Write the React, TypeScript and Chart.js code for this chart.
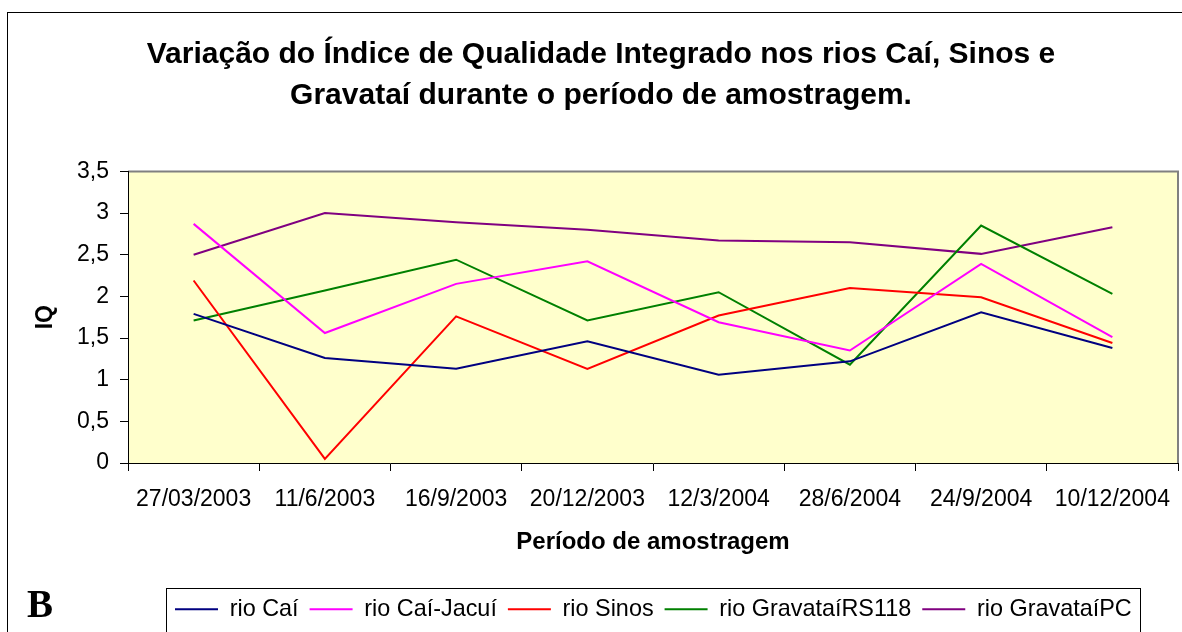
import React, { useEffect, useRef } from "react";
import { Chart, registerables } from "chart.js";

Chart.register(...registerables);

const categories = [
  "27/03/2003",
  "11/6/2003",
  "16/9/2003",
  "20/12/2003",
  "12/3/2004",
  "28/6/2004",
  "24/9/2004",
  "10/12/2004",
];

const rioCai = [1.79, 1.26, 1.13, 1.46, 1.06, 1.22, 1.81, 1.38];
const rioCaiJacui = [2.87, 1.56, 2.15, 2.42, 1.69, 1.35, 2.39, 1.51];
const rioSinos = [2.19, 0.05, 1.76, 1.13, 1.77, 2.1, 1.99, 1.44];
const rioGravataiRS118 = [1.71, 2.07, 2.44, 1.71, 2.05, 1.18, 2.85, 2.03];
const rioGravataiPC = [2.5, 3.0, 2.89, 2.8, 2.67, 2.65, 2.51, 2.83];

const seriesNames = ["rio Caí", "rio Caí-Jacuí", "rio Sinos", "rio GravataíRS118", "rio GravataíPC"];
const seriesColors = ["#000080", "#FF00FF", "#FF0000", "#008000", "#800080"];

const titleLines = [
  "Variação do Índice de Qualidade Integrado nos rios Caí, Sinos e",
  "Gravataí durante o período de amostragem.",
];
const xTitle = "Período de amostragem";
const yTitle = "IQ";
const panelLabel = "B";

const W = 1182;
const H = 632;
const PLOT_BOTTOM = 463;
const LEGEND_PAD_BOTTOM = 1;

export default function App() {
  const canvasRef = useRef<HTMLCanvasElement | null>(null);

  useEffect(() => {
    const canvas = canvasRef.current;
    if (!canvas) return;
    const FONT = "'Liberation Sans', Arial, sans-serif";
    Chart.defaults.font.family = FONT;
    Chart.defaults.color = "#000";

    const allSeries = [rioCai, rioCaiJacui, rioSinos, rioGravataiRS118, rioGravataiPC];

    const decorPlugin = {
      id: "decor",
      beforeDraw(chart: any) {
        const ctx = chart.ctx;
        const a = chart.chartArea;
        ctx.save();
        ctx.fillStyle = "#fff";
        ctx.fillRect(0, 0, W, H);
        // outer frame
        ctx.strokeStyle = "#000";
        ctx.lineWidth = 1;
        ctx.strokeRect(7.5, 12.5, 1300, 800);
        // plot background
        ctx.fillStyle = "#FFFFCC";
        ctx.fillRect(a.left, a.top, a.right - a.left, a.bottom - a.top);
        // gray border top/right
        ctx.strokeStyle = "#808080";
        ctx.lineWidth = 2;
        ctx.beginPath();
        ctx.moveTo(a.left, a.top);
        ctx.lineTo(a.right, a.top);
        ctx.lineTo(a.right, a.bottom);
        ctx.stroke();
        ctx.restore();
      },
      afterUpdate(chart: any) {
        const lg = chart.legend;
        if (lg) {
          lg.left = 164;
          lg.right = 1400;
        }
        const tb = chart.titleBlock;
        if (tb) {
          tb.left = 24;
          tb.right = 1178;
        }
      },
      afterDraw(chart: any) {
        const ctx = chart.ctx;
        const lg = chart.legend;
        ctx.save();
        if (lg && lg.lineWidths) {
          const x0 = lg.left + 2;
          const x1 = lg.left + lg.lineWidths[0] + 8;
          ctx.strokeStyle = "#000";
          ctx.lineWidth = 1;
          ctx.strokeRect(Math.round(x0) + 0.5, 588.5, Math.round(x1 - x0), 100);
        }
        ctx.fillStyle = "#000";
        ctx.font = "bold 39px 'Liberation Serif', 'Times New Roman', serif";
        ctx.textBaseline = "alphabetic";
        ctx.textAlign = "left";
        ctx.fillText(panelLabel, 27, 617);
        ctx.restore();
      },
    };

    const chart = new Chart(canvas, {
      type: "line",
      data: {
        labels: categories,
        datasets: allSeries.map((d, i) => ({
          label: seriesNames[i],
          data: d,
          borderColor: seriesColors[i],
          backgroundColor: seriesColors[i],
          borderWidth: 2,
          pointRadius: 0,
          tension: 0,
          fill: false,
        })),
      },
      options: {
        animation: false,
        responsive: false,
        events: [],
        layout: { padding: { left: 0, right: 4, top: 0, bottom: LEGEND_PAD_BOTTOM } },
        plugins: {
          tooltip: { enabled: false },
          title: {
            display: true,
            text: titleLines,
            color: "#000",
            font: { size: 30, weight: "bold", family: FONT, lineHeight: 1.373 },
            padding: { top: 34, bottom: 55 },
          },
          legend: {
            display: true,
            position: "bottom",
            align: "start",
            labels: {
              color: "#000",
              font: { size: 23.4, family: FONT },
              boxWidth: 43,
              boxHeight: 0,
              padding: 11,
            },
          },
        },
        scales: {
          x: {
            type: "category",
            offset: true,
            grid: {
              display: true,
              offset: true,
              drawOnChartArea: false,
              drawTicks: true,
              tickLength: 8,
              color: "#000",
            },
            border: { display: true, color: "#000", width: 1 },
            ticks: {
              autoSkip: false,
              maxRotation: 0,
              minRotation: 0,
              padding: 15,
              color: "#000",
              font: { size: 23, family: FONT },
            },
            title: {
              display: true,
              text: xTitle,
              color: "#000",
              font: { size: 24, weight: "bold", family: FONT },
              padding: { top: 0, bottom: 30 },
            },
            afterFit(s: any) {
              const lh = s.chart.legend ? s.chart.legend.height : 44;
              s.height = H - LEGEND_PAD_BOTTOM - lh - PLOT_BOTTOM;
              s.paddingLeft = 0;
              s.paddingRight = 0;
            },
          },
          y: {
            min: 0,
            max: 3.5,
            ticks: {
              stepSize: 0.5,
              padding: 11,
              color: "#000",
              font: { size: 23, family: FONT },
              callback: (v: any) => String(Number(v)).replace(".", ","),
            },
            grid: {
              display: true,
              drawOnChartArea: false,
              drawTicks: true,
              tickLength: 8,
              color: "#000",
            },
            border: { display: true, color: "#000", width: 1 },
            title: {
              display: true,
              text: yTitle,
              color: "#000",
              font: { size: 23, weight: "bold", family: FONT },
              padding: { top: 32, bottom: 0 },
            },
            afterFit(s: any) {
              s.width = 128;
            },
          },
        },
      },
      plugins: [decorPlugin],
    } as any);

    return () => {
      chart.destroy();
    };
  }, []);

  return (
    <div
      style={{
        position: "fixed",
        left: 0,
        top: 0,
        width: W,
        height: H,
        overflow: "hidden",
        background: "#fff",
      }}
    >
      <canvas ref={canvasRef} width={W} height={H} style={{ display: "block", width: W, height: H }} />
    </div>
  );
}
